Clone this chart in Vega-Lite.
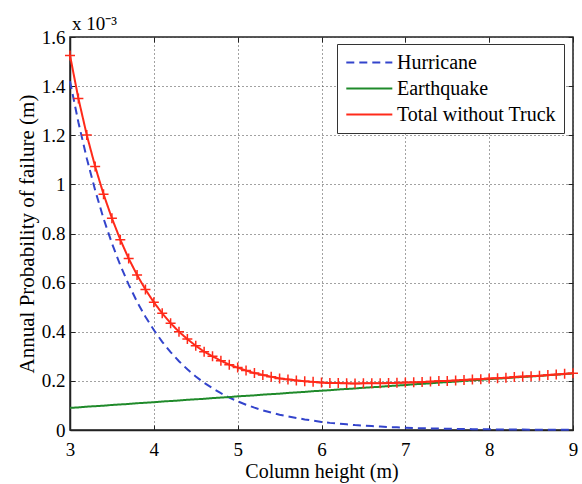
{
  "$schema": "https://vega.github.io/schema/vega-lite/v6.json",
  "width": 503,
  "height": 393,
  "autosize": "none",
  "padding": {"left": 70, "top": 37, "right": 9, "bottom": 54},
  "background": "white",
  "config": {
    "font": "Liberation Serif",
    "view": {"stroke": "#222222", "strokeWidth": 1.5},
    "axis": {
      "labelFont": "Liberation Serif",
      "titleFont": "Liberation Serif",
      "labelFontSize": 19,
      "titleFontSize": 20,
      "titleFontWeight": "normal",
      "labelColor": "black",
      "titleColor": "black",
      "domainColor": "#222222",
      "domainWidth": 1.5,
      "tickColor": "#222222",
      "tickSize": -5,
      "tickWidth": 1,
      "gridColor": "#444444",
      "gridDash": [1, 3],
      "gridWidth": 1,
      "gridOpacity": 1
    }
  },
  "title": {
    "text": "x 10⁻³",
    "anchor": "start",
    "frame": "group",
    "dx": 2,
    "offset": -6,
    "fontSize": 19,
    "fontWeight": "normal",
    "font": "Liberation Serif",
    "color": "black"
  },
  "data": {
    "values": [
      {"h": 3.0, "Hurricane": 1.420, "Earthquake": 0.090, "Total without Truck": 1.525},
      {"h": 3.1, "Hurricane": 1.253, "Earthquake": 0.092, "Total without Truck": 1.350},
      {"h": 3.2, "Hurricane": 1.106, "Earthquake": 0.095, "Total without Truck": 1.201},
      {"h": 3.3, "Hurricane": 0.976, "Earthquake": 0.097, "Total without Truck": 1.073},
      {"h": 3.4, "Hurricane": 0.861, "Earthquake": 0.099, "Total without Truck": 0.960},
      {"h": 3.5, "Hurricane": 0.760, "Earthquake": 0.102, "Total without Truck": 0.862},
      {"h": 3.6, "Hurricane": 0.671, "Earthquake": 0.104, "Total without Truck": 0.775},
      {"h": 3.7, "Hurricane": 0.592, "Earthquake": 0.106, "Total without Truck": 0.698},
      {"h": 3.8, "Hurricane": 0.522, "Earthquake": 0.109, "Total without Truck": 0.631},
      {"h": 3.9, "Hurricane": 0.461, "Earthquake": 0.111, "Total without Truck": 0.572},
      {"h": 4.0, "Hurricane": 0.407, "Earthquake": 0.113, "Total without Truck": 0.520},
      {"h": 4.1, "Hurricane": 0.359, "Earthquake": 0.116, "Total without Truck": 0.475},
      {"h": 4.2, "Hurricane": 0.317, "Earthquake": 0.118, "Total without Truck": 0.435},
      {"h": 4.3, "Hurricane": 0.280, "Earthquake": 0.120, "Total without Truck": 0.400},
      {"h": 4.4, "Hurricane": 0.247, "Earthquake": 0.123, "Total without Truck": 0.370},
      {"h": 4.5, "Hurricane": 0.218, "Earthquake": 0.125, "Total without Truck": 0.343},
      {"h": 4.6, "Hurricane": 0.192, "Earthquake": 0.127, "Total without Truck": 0.319},
      {"h": 4.7, "Hurricane": 0.170, "Earthquake": 0.130, "Total without Truck": 0.300},
      {"h": 4.8, "Hurricane": 0.150, "Earthquake": 0.132, "Total without Truck": 0.282},
      {"h": 4.9, "Hurricane": 0.132, "Earthquake": 0.134, "Total without Truck": 0.266},
      {"h": 5.0, "Hurricane": 0.117, "Earthquake": 0.137, "Total without Truck": 0.254},
      {"h": 5.1, "Hurricane": 0.103, "Earthquake": 0.139, "Total without Truck": 0.242},
      {"h": 5.2, "Hurricane": 0.091, "Earthquake": 0.141, "Total without Truck": 0.232},
      {"h": 5.3, "Hurricane": 0.080, "Earthquake": 0.144, "Total without Truck": 0.224},
      {"h": 5.4, "Hurricane": 0.071, "Earthquake": 0.146, "Total without Truck": 0.217},
      {"h": 5.5, "Hurricane": 0.062, "Earthquake": 0.148, "Total without Truck": 0.210},
      {"h": 5.6, "Hurricane": 0.055, "Earthquake": 0.151, "Total without Truck": 0.206},
      {"h": 5.7, "Hurricane": 0.049, "Earthquake": 0.153, "Total without Truck": 0.202},
      {"h": 5.8, "Hurricane": 0.043, "Earthquake": 0.155, "Total without Truck": 0.198},
      {"h": 5.9, "Hurricane": 0.038, "Earthquake": 0.158, "Total without Truck": 0.196},
      {"h": 6.0, "Hurricane": 0.033, "Earthquake": 0.160, "Total without Truck": 0.193},
      {"h": 6.1, "Hurricane": 0.029, "Earthquake": 0.162, "Total without Truck": 0.191},
      {"h": 6.2, "Hurricane": 0.026, "Earthquake": 0.165, "Total without Truck": 0.191},
      {"h": 6.3, "Hurricane": 0.023, "Earthquake": 0.167, "Total without Truck": 0.190},
      {"h": 6.4, "Hurricane": 0.020, "Earthquake": 0.169, "Total without Truck": 0.189},
      {"h": 6.5, "Hurricane": 0.018, "Earthquake": 0.172, "Total without Truck": 0.190},
      {"h": 6.6, "Hurricane": 0.016, "Earthquake": 0.174, "Total without Truck": 0.190},
      {"h": 6.7, "Hurricane": 0.014, "Earthquake": 0.176, "Total without Truck": 0.190},
      {"h": 6.8, "Hurricane": 0.012, "Earthquake": 0.179, "Total without Truck": 0.191},
      {"h": 6.9, "Hurricane": 0.011, "Earthquake": 0.181, "Total without Truck": 0.192},
      {"h": 7.0, "Hurricane": 0.0095, "Earthquake": 0.183, "Total without Truck": 0.193},
      {"h": 7.1, "Hurricane": 0.008, "Earthquake": 0.186, "Total without Truck": 0.194},
      {"h": 7.2, "Hurricane": 0.007, "Earthquake": 0.188, "Total without Truck": 0.195},
      {"h": 7.3, "Hurricane": 0.0065, "Earthquake": 0.190, "Total without Truck": 0.197},
      {"h": 7.4, "Hurricane": 0.006, "Earthquake": 0.193, "Total without Truck": 0.199},
      {"h": 7.5, "Hurricane": 0.005, "Earthquake": 0.195, "Total without Truck": 0.200},
      {"h": 7.6, "Hurricane": 0.0045, "Earthquake": 0.197, "Total without Truck": 0.202},
      {"h": 7.7, "Hurricane": 0.004, "Earthquake": 0.200, "Total without Truck": 0.204},
      {"h": 7.8, "Hurricane": 0.0035, "Earthquake": 0.202, "Total without Truck": 0.206},
      {"h": 7.9, "Hurricane": 0.003, "Earthquake": 0.204, "Total without Truck": 0.207},
      {"h": 8.0, "Hurricane": 0.0027, "Earthquake": 0.207, "Total without Truck": 0.210},
      {"h": 8.1, "Hurricane": 0.0024, "Earthquake": 0.209, "Total without Truck": 0.211},
      {"h": 8.2, "Hurricane": 0.002, "Earthquake": 0.211, "Total without Truck": 0.213},
      {"h": 8.3, "Hurricane": 0.0018, "Earthquake": 0.214, "Total without Truck": 0.216},
      {"h": 8.4, "Hurricane": 0.0016, "Earthquake": 0.216, "Total without Truck": 0.218},
      {"h": 8.5, "Hurricane": 0.0014, "Earthquake": 0.218, "Total without Truck": 0.219},
      {"h": 8.6, "Hurricane": 0.0012, "Earthquake": 0.220, "Total without Truck": 0.221},
      {"h": 8.7, "Hurricane": 0.0011, "Earthquake": 0.223, "Total without Truck": 0.224},
      {"h": 8.8, "Hurricane": 0.001, "Earthquake": 0.225, "Total without Truck": 0.226},
      {"h": 8.9, "Hurricane": 0.0009, "Earthquake": 0.228, "Total without Truck": 0.229},
      {"h": 9.0, "Hurricane": 0.0008, "Earthquake": 0.230, "Total without Truck": 0.231}
    ]
  },
  "transform": [
    {"fold": ["Hurricane", "Earthquake", "Total without Truck"], "as": ["series", "p"]}
  ],
  "resolve": {"axis": {"x": "independent", "y": "independent"}},
  "layer": [
    {
      "mark": {"type": "line", "strokeWidth": 2},
      "encoding": {
        "x": {
          "field": "h", "type": "quantitative",
          "scale": {"domain": [3, 9], "nice": false, "zero": false},
          "axis": {"title": "Column height (m)", "values": [3, 4, 5, 6, 7, 8, 9], "format": "d", "labelPadding": 15, "titlePadding": 2, "labelFlush": false}
        },
        "y": {
          "field": "p", "type": "quantitative",
          "scale": {"domain": [0, 1.6], "nice": false},
          "axis": {"title": "Annual Probability of failure (m)", "titleFontSize": 21, "values": [0, 0.2, 0.4, 0.6, 0.8, 1, 1.2, 1.4, 1.6], "format": ".1~f", "labelPadding": 10, "titlePadding": 4}
        },
        "color": {
          "field": "series", "type": "nominal",
          "scale": {"domain": ["Hurricane", "Earthquake", "Total without Truck"], "range": ["#3344cc", "#1f8a2a", "#ff2a1a"]},
          "legend": {
            "title": null,
            "orient": "none",
            "legendX": 267,
            "legendY": 7,
            "direction": "vertical",
            "strokeColor": "#333333",
            "fillColor": "white",
            "padding": 8,
            "labelFont": "Liberation Serif",
            "labelFontSize": 20,
            "labelColor": "black",
            "symbolType": "M-1,0H4",
            "symbolSize": 339,
            "symbolStrokeWidth": 2,
            "rowPadding": 5,
            "labelOffset": 31
          }
        },
        "strokeDash": {
          "field": "series", "type": "nominal",
          "scale": {"domain": ["Hurricane", "Earthquake", "Total without Truck"], "range": [[8, 5], [1, 0], [1, 0]]},
          "legend": null
        }
      }
    },
    {
      "transform": [{"filter": "datum.series === 'Total without Truck'"}],
      "mark": {"type": "point", "shape": "M-1,0H1M0,-1V1", "filled": false, "size": 100, "strokeWidth": 1.5, "color": "#ff2a1a", "opacity": 1},
      "encoding": {
        "x": {"field": "h", "type": "quantitative", "axis": {"orient": "top", "labels": false, "title": null, "grid": false, "values": [3, 4, 5, 6, 7, 8, 9], "domain": false}},
        "y": {"field": "p", "type": "quantitative", "axis": {"orient": "right", "labels": false, "title": null, "grid": false, "values": [0, 0.2, 0.4, 0.6, 0.8, 1, 1.2, 1.4, 1.6], "domain": false}}
      }
    }
  ]
}
